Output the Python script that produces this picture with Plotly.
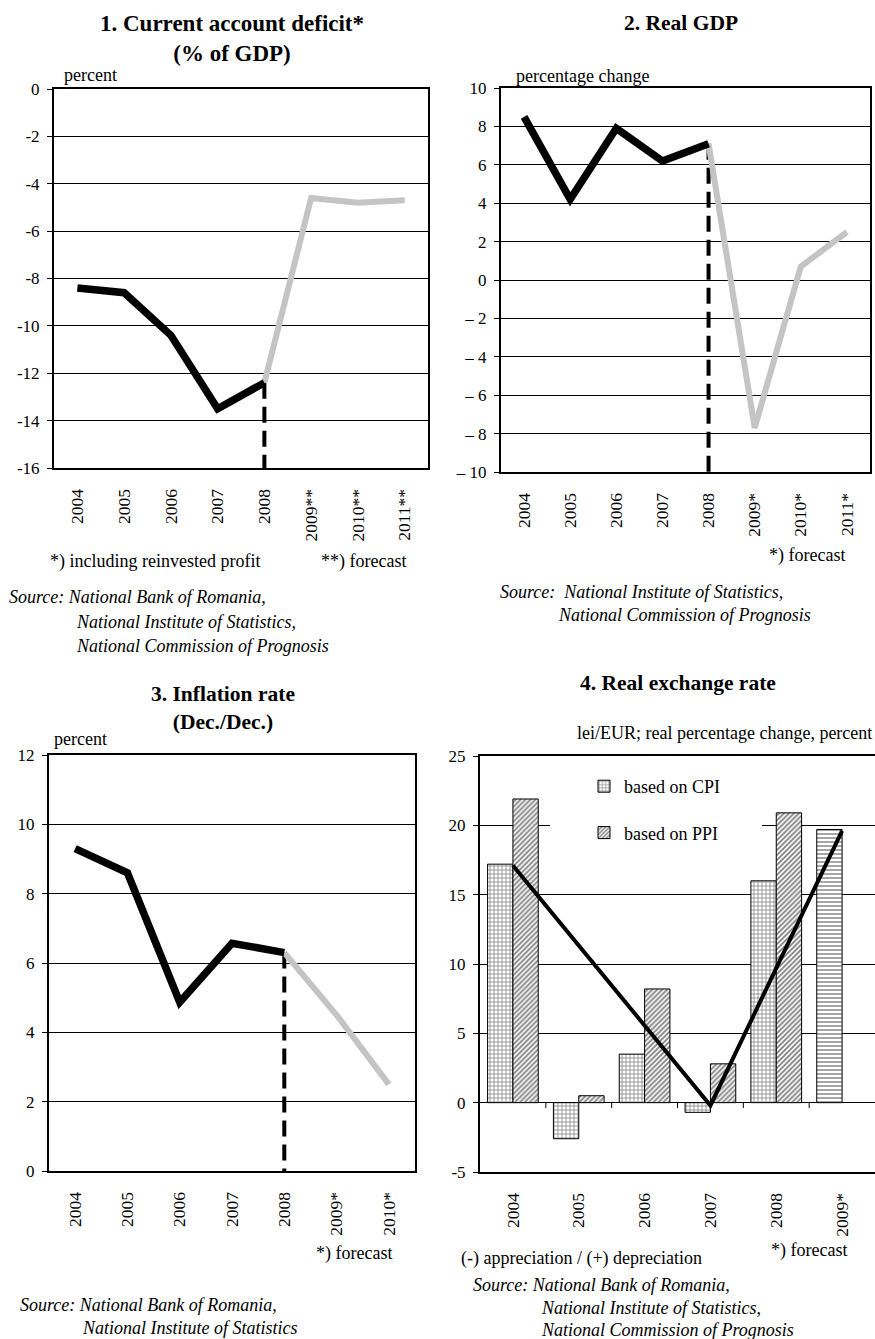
import plotly.graph_objects as go

W, H = 875, 1339
FONT = "Liberation Serif, Times New Roman, serif"

# ---- 1. Current account deficit (% of GDP) ----
ca_years = ["2004", "2005", "2006", "2007", "2008", "2009**", "2010**", "2011**"]
ca_actual = [-8.4, -8.6, -10.4, -13.5, -12.4, None, None, None]
ca_forecast = [None, None, None, None, -12.4, -4.6, -4.8, -4.7]
ca_tickvals = [-16, -14, -12, -10, -8, -6, -4, -2, 0]
ca_ticktext = ["-16", "-14", "-12", "-10", "-8", "-6", "-4", "-2", "0"]

# ---- 2. Real GDP ----
gdp_years = ["2004", "2005", "2006", "2007", "2008", "2009*", "2010*", "2011*"]
gdp_actual = [8.5, 4.2, 7.9, 6.2, 7.1, None, None, None]
gdp_forecast = [None, None, None, None, 7.1, -7.7, 0.7, 2.5]
gdp_tickvals = [-10, -8, -6, -4, -2, 0, 2, 4, 6, 8, 10]
gdp_ticktext = ["\u2013 10", "\u2013 8", "\u2013 6", "\u2013 4", "\u2013 2", "0", "2", "4", "6", "8", "10"]

# ---- 3. Inflation rate (Dec./Dec.) ----
inf_years = ["2004", "2005", "2006", "2007", "2008", "2009*", "2010*"]
inf_actual = [9.3, 8.6, 4.87, 6.57, 6.3, None, None]
inf_forecast = [None, None, None, None, 6.3, 4.5, 2.5]
inf_tickvals = [0, 2, 4, 6, 8, 10, 12]
inf_ticktext = ["0", "2", "4", "6", "8", "10", "12"]

# ---- 4. Real exchange rate ----
rer_years = ["2004", "2005", "2006", "2007", "2008", "2009*"]
rer_cpi = [17.2, -2.6, 3.5, -0.7, 16.0, 19.7]
rer_ppi = [21.9, 0.5, 8.2, 2.8, 20.9, None]
rer_cpi_patterns = ["+", "+", "+", "+", "+", "-"]
trend_years = ["2004", "2007", "2009*"]
trend_values = [17.1, -0.2, 19.6]
rer_tickvals = [-5, 0, 5, 10, 15, 20, 25]
rer_ticktext = ["-5", "0", "5", "10", "15", "20", "25"]


def px(x):
    return x / W


def py(y):
    return 1 - y / H


BLACK_W = 7.5
GRAY = "#c4c4c4"
GRAY_W = 6
DASH = dict(color="black", width=4, dash="16px,8px")

fig = go.Figure()


def add_panel(n, years, actual, forecast, ymin):
    xa, ya = ("x", "y") if n == 1 else (f"x{n}", f"y{n}")
    split = years[4]
    split_val = actual[4]
    fig.add_trace(go.Scatter(x=[split, split], y=[split_val, ymin], mode="lines",
                             line=DASH, xaxis=xa, yaxis=ya, showlegend=False,
                             hoverinfo="skip"))
    fig.add_trace(go.Scatter(x=years, y=forecast, mode="lines",
                             line=dict(color=GRAY, width=GRAY_W),
                             xaxis=xa, yaxis=ya, showlegend=False))
    fig.add_trace(go.Scatter(x=years, y=actual, mode="lines",
                             line=dict(color="black", width=BLACK_W),
                             xaxis=xa, yaxis=ya, showlegend=False))


add_panel(1, ca_years, ca_actual, ca_forecast, -16)
add_panel(2, gdp_years, gdp_actual, gdp_forecast, -10)
add_panel(3, inf_years, inf_actual, inf_forecast, 0)

# panel 4: bars + trend line
fig.add_trace(go.Bar(x=rer_years, y=rer_cpi, name="based on CPI",
                     marker=dict(color="white", line=dict(color="black", width=1),
                                 pattern=dict(shape=rer_cpi_patterns, fgcolor="black",
                                              bgcolor="white", size=4, solidity=0.35,
                                              fillmode="overlay")),
                     xaxis="x4", yaxis="y4", legendgroup="cpi"))
fig.add_trace(go.Bar(x=rer_years, y=rer_ppi, name="based on PPI",
                     marker=dict(color="white", line=dict(color="black", width=1),
                                 pattern=dict(shape="/", fgcolor="black",
                                              bgcolor="white", size=3.5, solidity=0.5,
                                              fillmode="overlay")),
                     xaxis="x4", yaxis="y4", legendgroup="ppi"))
fig.add_trace(go.Scatter(x=trend_years, y=trend_values, mode="lines",
                         line=dict(color="black", width=4),
                         xaxis="x4", yaxis="y4", showlegend=False))

tickfont = dict(family=FONT, size=17, color="black")


def yaxis(dom_top, dom_bot, rng, tickvals, ticktext, anchor, mirror=True, **kw):
    d = dict(domain=[py(dom_bot), py(dom_top)], range=rng, automargin=False,
             tickmode="array", tickvals=tickvals, ticktext=ticktext,
             showline=True, linecolor="black", linewidth=2, mirror=mirror,
             ticks="outside", ticklen=5, tickcolor="black", tickwidth=1,
             showgrid=True, gridcolor="black", gridwidth=1, zeroline=False,
             tickfont=tickfont, ticklabelstandoff=4, anchor=anchor)
    d.update(kw)
    return d


def xaxis(left, right, years, anchor, mirror=True):
    return dict(domain=[px(left), px(right)], type="category", automargin=False,
                categoryorder="array", categoryarray=years,
                range=[-0.5, len(years) - 0.5],
                showline=True, linecolor="black", linewidth=2, mirror=mirror,
                ticks="", showgrid=False, zeroline=False, tickangle=-90,
                tickfont=dict(family=FONT, size=17.5, color="black"),
                ticklabelstandoff=12, anchor=anchor)


fig.update_layout(
    width=W, height=H, autosize=False,
    margin=dict(l=0, r=0, t=0, b=0, pad=0),
    paper_bgcolor="white", plot_bgcolor="white",
    barmode="group", bargap=0.23, bargroupgap=0,
    xaxis=xaxis(54, 428, ca_years, "y"),
    yaxis=yaxis(89, 468, [-16, 0], ca_tickvals, ca_ticktext, "x"),
    xaxis2=xaxis(501, 870, gdp_years, "y2"),
    yaxis2=yaxis(88, 472, [-10, 10], gdp_tickvals, gdp_ticktext, "x2"),
    xaxis3=xaxis(49, 415, inf_years, "y3"),
    yaxis3=yaxis(755, 1171, [0, 12], inf_tickvals, inf_ticktext, "x3"),
    xaxis4=xaxis(480, 875, rer_years, "y4"),
    yaxis4=yaxis(756, 1172, [-5, 25], rer_tickvals, rer_ticktext, "x4", mirror=False,
                 zeroline=True, zerolinecolor="black", zerolinewidth=1),
    showlegend=True,
    legend=dict(x=px(584), y=py(768), xanchor="left", yanchor="top",
                bgcolor="rgba(255,255,255,0)", borderwidth=0, traceorder="grouped",
                tracegroupgap=20,
                font=dict(family=FONT, size=18, color="black")),
)

# white gap in the 20 gridline behind the legend
shapes = [dict(type="rect", xref="paper", yref="paper", layer="above",
               x0=px(550), x1=px(762), y0=py(840), y1=py(812),
               fillcolor="white", line=dict(width=0))]
# category-boundary ticks on the zero line of panel 4
for i in range(len(rer_years) - 1):
    shapes.append(dict(type="line", xref="x4", yref="y4",
                       x0=i + 0.5, x1=i + 0.5, y0=0, y1=-0.38,
                       line=dict(color="black", width=1)))
fig.update_layout(shapes=shapes)

ann = []


def note(text, x, y, xanchor="left", size=18, italic=False, bold=False):
    if italic:
        text = f"<i>{text}</i>"
    if bold:
        text = f"<b>{text}</b>"
    ann.append(dict(text=text, x=px(x), y=py(y), xref="paper", yref="paper",
                    xanchor=xanchor, yanchor="middle", showarrow=False,
                    align="center", font=dict(family=FONT, size=size, color="black")))


# titles
note("1. Current account deficit*<br>(% of GDP)", 232, 39, "center", 23, bold=True)
note("2. Real GDP", 681, 23, "center", 21.5, bold=True)
note("3. Inflation rate<br>(Dec./Dec.)", 223, 708, "center", 21.5, bold=True)
note("4. Real exchange rate", 678, 683, "center", 21.5, bold=True)

# unit labels
note("percent", 62, 75)
note("percentage change", 514, 76)
note("percent", 52, 739)
note("lei/EUR; real percentage change, percent", 874, 733, "right")

# footnotes
note("*) including reinvested profit", 48, 561)
note("**) forecast", 319, 561)
note("*) forecast", 767, 555)
note("*) forecast", 314, 1253)
note("(-) appreciation / (+) depreciation", 459, 1258)
note("*) forecast", 769, 1250)

# sources
note("Source: National Bank of Romania,", 7, 597, italic=True)
note("National Institute of Statistics,", 74, 622, italic=True)
note("National Commission of Prognosis", 74, 646, italic=True)

note("Source:  National Institute of Statistics,", 498, 592, italic=True)
note("National Commission of Prognosis", 556, 615, italic=True)

note("Source: National Bank of Romania,", 18, 1305, italic=True)
note("National Institute of Statistics", 80, 1328, italic=True)

note("Source: National Bank of Romania,", 471, 1285, italic=True)
note("National Institute of Statistics,", 539, 1308, italic=True)
note("National Commission of Prognosis", 539, 1330, italic=True)

fig.update_layout(annotations=ann)

fig.write_html("out.html")
